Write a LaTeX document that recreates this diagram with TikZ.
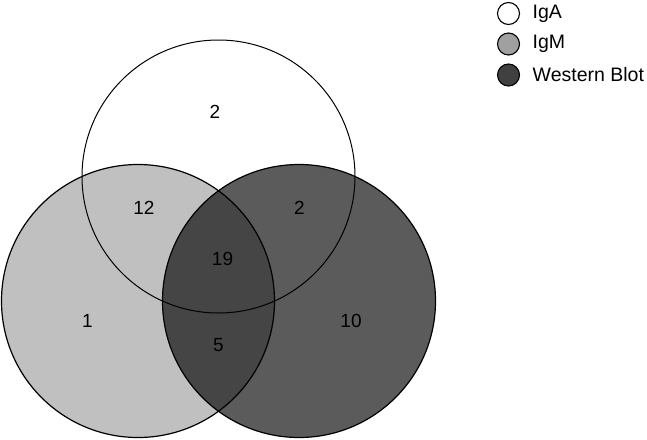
\documentclass[tikz,border=0pt]{standalone}
\usepackage{fontspec}
\setmainfont{Liberation Sans}
\definecolor{igmfill}{HTML}{C0C0C0}
\definecolor{wbfill}{HTML}{5B5B5B}
\definecolor{bothfill}{HTML}{454545}
\definecolor{legM}{HTML}{A0A0A0}
\definecolor{legW}{HTML}{404040}
\tikzset{
  ring/.style={draw=black, line width=1.2pt},
  num/.style={font=\fontsize{19}{21}\selectfont, inner sep=0pt},
  legtxt/.style={font=\fontsize{19.5}{21}\selectfont, anchor=west, inner sep=0pt},
  legdot/.style={circle, draw=black, line width=1.1pt, minimum size=22pt, inner sep=0pt}
}
\begin{document}
\begin{tikzpicture}[x=1pt,y=-1pt]
\useasboundingbox (0,0) rectangle (647,439);
% fills
\fill[white] (218.5,176.5) circle (136.5);
\fill[igmfill] (138,301) circle (136.5);
\fill[wbfill] (299,301) circle (136.5);
\begin{scope}
  \clip (138,301) circle (136.5);
  \fill[bothfill] (299,301) circle (136.5);
\end{scope}
% outlines
\draw[ring] (138,301) circle (136.5);
\draw[ring] (299,301) circle (136.5);
\draw[ring, line width=1pt] (218.5,176.5) circle (136.5);
% numbers
\node[num] (nA) at (215,111.5) {2};
\node[num] (nAM) at (144,208) {12};
\node[num] (nAW) at (299.5,208) {2};
\node[num] (nAll) at (222.5,259) {19};
\node[num] (nM) at (87.5,320.5) {1};
\node[num] (nW) at (351,320.5) {10};
\node[num] (nMW) at (218.5,345.5) {5};
% legend
\node[legdot, fill=white] (dA) at (508.5,13.5) {};
\node[legdot, fill=legM] (dM) at (508.5,44) {};
\node[legdot, fill=legW] (dW) at (508.5,75) {};
\node[legtxt] (tA) at (532.5,13.5) {IgA};
\node[legtxt] (tM) at (532.5,44) {IgM};
\node[legtxt] (tW) at (532.5,75) {Western Blot};
\end{tikzpicture}
\end{document}
